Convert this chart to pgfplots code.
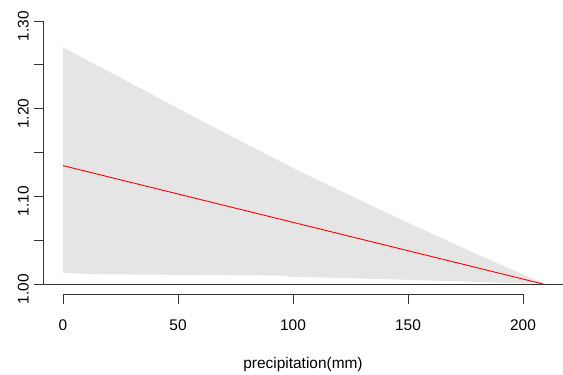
\documentclass[border=0pt]{standalone}
\usepackage{pgfplots}
\pgfplotsset{compat=1.18}
\usepackage{fontspec}
\setmainfont{Liberation Sans}
\definecolor{band}{HTML}{E5E5E5}
\definecolor{axc}{HTML}{333333}
\begin{document}
\fontsize{15.5}{18}\selectfont
\begin{tikzpicture}
\useasboundingbox (0,0) rectangle (563bp,375bp);
\begin{axis}[
  at={(43bp,91bp)}, anchor=south west,
  scale only axis, width=520bp, height=263bp,
  xmin=-8.7, xmax=217.4, ymin=1, ymax=1.3,
  axis lines*=left,
  axis line style={axc, line width=0.9bp},
  xtick=\empty,
  ytick={1,1.05,1.1,1.15,1.2,1.25,1.3},
  yticklabels={1.00,,1.10,,1.20,,1.30},
  ytick align=outside, major tick length=9bp,
  tick style={axc, line width=0.9bp},
  yticklabel style={rotate=90, anchor=south, font=\fontsize{15.5}{18}\selectfont, xshift=-5bp},
  /pgf/number format/assume math mode=true,
  clip=false,
]
\addplot[fill=band, draw=none] coordinates {
 (0,1.270) (59.6,1.187) (101.7,1.130) (146.5,1.074) (180,1.034) (209.5,1.0)
 (160,1.004) (120,1.0070) (98.6,1.0083) (97,1.0095) (11.7,1.0112) (0,1.0130)} --cycle;
\addplot[red, line width=0.9bp] coordinates {(0,1.135) (208.7,1.0)};
\end{axis}
\begin{axis}[
  at={(43bp,81bp)}, anchor=south west,
  scale only axis, width=520bp, height=263bp,
  xmin=-8.7, xmax=217.4, ymin=1, ymax=1.3,
  axis x line*=bottom, axis y line=none,
  x axis line style={draw=none},
  xtick={0,50,100,150,200},
  xtick align=outside, major tick length=10bp,
  tick style={axc, line width=0.9bp},
  xticklabel style={font=\fontsize{15.5}{18}\selectfont, yshift=-10bp},
  /pgf/number format/assume math mode=true,
  xlabel={precipitation(mm)},
  xlabel style={font=\fontsize{15.5}{18}\selectfont, yshift=-17bp},
  clip=false,
]
\addplot[axc, line width=0.9bp] coordinates {(0,1) (200,1)};
\end{axis}
\end{tikzpicture}
\end{document}
